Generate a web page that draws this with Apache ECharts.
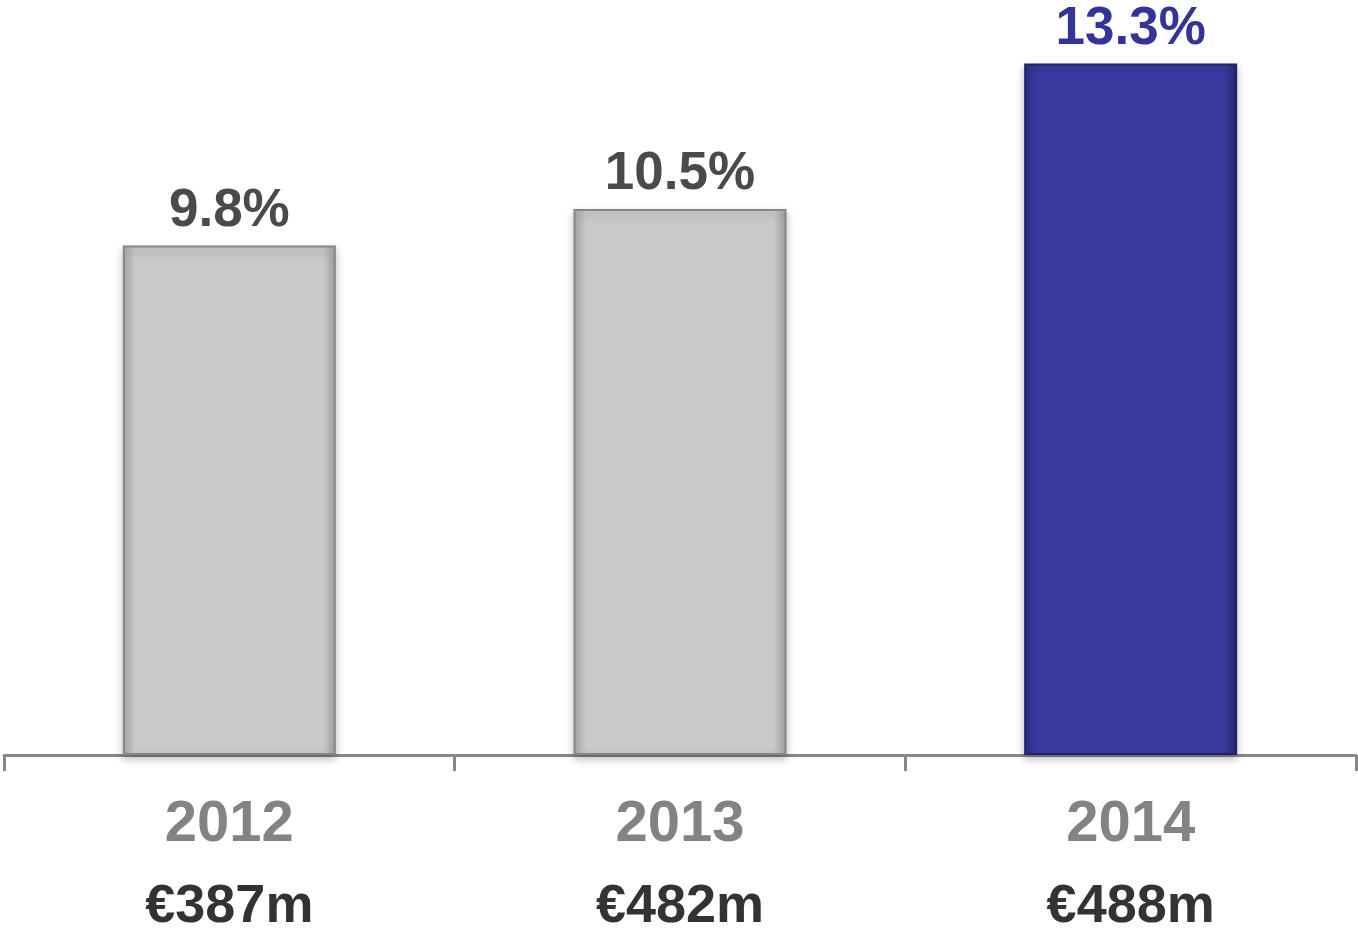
<!DOCTYPE html>
<html>
<head>
<meta charset="utf-8">
<script src="https://cdn.jsdelivr.net/npm/echarts@6/dist/echarts.min.js"></script>
<style>
  html, body { margin: 0; padding: 0; background: #fff; }
  #chart { width: 1358px; height: 928px; }
</style>
</head>
<body>
<div id="chart"></div>
<script>
// chart data
const years = ['2012', '2013', '2014'];
const margins = [9.8, 10.5, 13.3];
const amounts = ['€387m', '€482m', '€488m'];

const grayStyle = {
  color: new echarts.graphic.LinearGradient(0, 0, 1, 0, [
    { offset: 0, color: '#a9a9a9' },
    { offset: 0.06, color: '#c9c9c9' },
    { offset: 0.94, color: '#c9c9c9' },
    { offset: 1, color: '#a2a2a2' }
  ]),
  borderColor: '#868686',
  borderWidth: 2,
  shadowColor: 'rgba(0,0,0,0.25)',
  shadowBlur: 8,
  shadowOffsetY: 4
};

const blueStyle = {
  color: new echarts.graphic.LinearGradient(0, 0, 1, 0, [
    { offset: 0, color: '#2e2e88' },
    { offset: 0.06, color: '#3939a0' },
    { offset: 0.94, color: '#3939a0' },
    { offset: 1, color: '#28286f' }
  ]),
  borderColor: '#22226a',
  borderWidth: 2,
  shadowColor: 'rgba(0,0,0,0.25)',
  shadowBlur: 8,
  shadowOffsetY: 4
};

const chart = echarts.init(document.getElementById('chart'));

chart.setOption({
  animation: false,
  grid: { left: 4, right: 2, top: 27, bottom: 173, outerBoundsMode: 'none', containLabel: false },
  xAxis: {
    type: 'category',
    data: years,
    axisLine: { lineStyle: { color: '#888888', width: 3 } },
    axisTick: { show: true, length: 16, lineStyle: { color: '#888888', width: 3 } },
    axisLabel: {
      margin: 29,
      formatter: (v, i) => '{y|' + v + '}\n{v|' + amounts[i] + '}',
      rich: {
        y: { fontSize: 58, fontWeight: 'bold', color: '#838383', lineHeight: 82,
             fontFamily: 'Liberation Sans, Arial, sans-serif' },
        v: { fontSize: 54, fontWeight: 'bold', color: '#333333', lineHeight: 82,
             fontFamily: 'Liberation Sans, Arial, sans-serif' }
      }
    }
  },
  yAxis: { type: 'value', min: 0, max: 14, show: false, splitLine: { show: false } },
  series: [{
    type: 'bar',
    barWidth: 213,
    data: margins.map((v, i) => ({
      value: v,
      itemStyle: i === margins.length - 1 ? blueStyle : grayStyle,
      label: { color: i === margins.length - 1 ? '#333399' : '#4a4a4a' }
    })),
    label: {
      show: true,
      position: 'top',
      distance: 8,
      formatter: '{c}%',
      fontSize: 53,
      fontWeight: 'bold',
      fontFamily: 'Liberation Sans, Arial, sans-serif'
    }
  }]
});
</script>
</body>
</html>
